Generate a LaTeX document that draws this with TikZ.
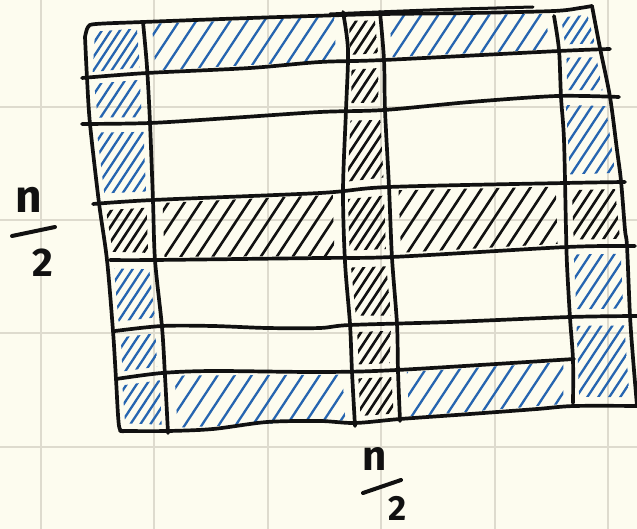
\documentclass[tikz,border=0pt]{standalone}
\usepackage{fontspec}
\newfontfamily\hand{Fira Sans}
\usetikzlibrary{calc}
\definecolor{paper}{RGB}{253,252,239}
\definecolor{gridc}{RGB}{222,219,206}
\definecolor{ink}{RGB}{17,17,17}
\definecolor{penblue}{RGB}{38,101,176}
\tikzset{
 edge line/.style={ink, line width=3.7pt, line cap=round, line join=round},
 bh/.style={penblue, line width=2.3pt, line cap=round},
 kh/.style={ink, line width=2.6pt, line cap=round},
 paperline/.style={gridc, line width=1.4pt},
 lbl/.style={text=ink, inner sep=0pt, anchor=base},
 bar/.style={ink, line width=4pt, line cap=round}
}
\newcommand\hcell[7]{%
 \begin{scope}
 \coordinate (cen) at ($(#4)!.5!(#6)$);
 \clip ($(#4)!#3pt!(cen)$) -- ($(#5)!#3pt!(cen)$) -- ($(#6)!#3pt!(cen)$) -- ($(#7)!#3pt!(cen)$) -- cycle;
 \foreach \m in {0,...,150} {\pgfmathsetmacro\k{-420+\m*#2} \draw[#1] (\k,440) -- ++(290,-440);}
 \end{scope}}
\begin{document}
\begin{tikzpicture}[x=1pt,y=-1pt]
\fill[paper] (0,0) rectangle (637,529);
\useasboundingbox (0,0) rectangle (637,529);
% paper grid
\foreach \gx in {41,154,268,381,495,608} \draw[paperline] (\gx,0) -- (\gx,529);
\foreach \gy in {107,220,333,447} \draw[paperline] (0,\gy) -- (637,\gy);
% corner points
\coordinate (p00) at (88,26); \coordinate (p10) at (143,22); \coordinate (p20) at (343,14); \coordinate (p30) at (380,13); \coordinate (p40) at (554,12); \coordinate (p50) at (592,7);
\coordinate (p01) at (86,78); \coordinate (p11) at (147,73); \coordinate (p21) at (345,62); \coordinate (p31) at (384,60); \coordinate (p41) at (559,51); \coordinate (p51) at (602,49);
\coordinate (p02) at (90,124); \coordinate (p12) at (150,123); \coordinate (p22) at (345,111); \coordinate (p32) at (385,110); \coordinate (p42) at (560,97); \coordinate (p52) at (610,97);
\coordinate (p03) at (99,203); \coordinate (p13) at (153,200); \coordinate (p23) at (342,191); \coordinate (p33) at (389,187); \coordinate (p43) at (565,183); \coordinate (p53) at (621,181);
\coordinate (p04) at (107,260); \coordinate (p14) at (155,260); \coordinate (p24) at (344,259); \coordinate (p34) at (392,257); \coordinate (p44) at (567,247); \coordinate (p54) at (627,246);
\coordinate (p05) at (113,331); \coordinate (p15) at (162,326); \coordinate (p25) at (350,325); \coordinate (p35) at (398,324); \coordinate (p45) at (570,317); \coordinate (p55) at (630,316);
\coordinate (p06) at (116,379); \coordinate (p16) at (165,373); \coordinate (p26) at (352,372); \coordinate (p36) at (397,370); \coordinate (p46) at (573,359); \coordinate (p56) at (633,358);
\coordinate (p07) at (119,430); \coordinate (p17) at (168,431); \coordinate (p27) at (355,423); \coordinate (p37) at (400,420); \coordinate (p47) at (573,406); \coordinate (p57) at (636,406);
% hatching row 0
\hcell{bh}{9}{9}{p00}{p10}{p11}{p01}
\hcell{bh}{17}{9}{p10}{p20}{p21}{p11}
\hcell{kh}{10}{9}{p20}{p30}{p31}{p21}
\hcell{bh}{17}{9}{p30}{p40}{p41}{p31}
\hcell{bh}{10}{9}{p40}{p50}{p51}{p41}
% row 1
\hcell{bh}{11}{10}{p01}{p11}{p12}{p02}
\hcell{kh}{10}{10}{p21}{p31}{p32}{p22}
\hcell{bh}{11}{10}{p41}{p51}{p52}{p42}
% row 2
\hcell{bh}{10}{11}{p02}{p12}{p13}{p03}
\hcell{kh}{10}{11}{p22}{p32}{p33}{p23}
\hcell{bh}{12}{10}{p42}{p52}{p53}{p43}
% row 3
\hcell{kh}{10}{10}{p03}{p13}{p14}{p04}
\hcell{kh}{16}{10}{p13}{p23}{p24}{p14}
\hcell{kh}{10}{10}{p23}{p33}{p34}{p24}
\hcell{kh}{16}{10}{p33}{p43}{p44}{p34}
\hcell{kh}{11}{10}{p43}{p53}{p54}{p44}
% row 4
\hcell{bh}{10}{11}{p04}{p14}{p15}{p05}
\hcell{kh}{10}{11}{p24}{p34}{p35}{p25}
\hcell{bh}{12}{10}{p44}{p54}{p55}{p45}
% row 5
\hcell{bh}{10}{10}{p05}{p15}{p16}{p06}
\hcell{kh}{10}{10}{p25}{p35}{p36}{p26}
\hcell{bh}{11}{11}{p45}{p55}{p57}{p47}
% row 6
\hcell{bh}{10}{9}{p06}{p16}{p17}{p07}
\hcell{bh}{17}{10}{p16}{p26}{p27}{p17}
\hcell{kh}{10}{9}{p26}{p36}{p37}{p27}
\hcell{bh}{17}{10}{p36}{p46}{p47}{p37}
% outline and dividers
\draw[edge line] plot[smooth, tension=0.5] coordinates {(85,37) (88,27) (96,24) (143,22) (250,18) (344,15) (383,14) (470,13) (554,11) (580,8) (592,6)};
\draw[edge line, line width=3pt] plot[smooth, tension=0.5] coordinates {(330,14) (430,10) (533,7)};
\draw[edge line] plot[smooth, tension=0.5] coordinates {(85,37) (87,78) (90,124) (99,203) (107,260) (113,331) (116,379) (119,426) (124,431)};
\draw[edge line] plot[smooth, tension=0.5] coordinates {(120,431) (168,431) (213,429) (267,422) (320,421) (355,423) (400,419) (470,414) (537,409) (574,406) (640,406)};
\draw[edge line] plot[smooth, tension=0.5] coordinates {(592,6) (600,48) (610,97) (617,150) (621,181) (625,230) (627,246) (630,316) (633,358) (637,406)};
\draw[edge line] plot[smooth, tension=0.5] coordinates {(143,22) (147,67) (150,123) (153,201) (155,260) (162,327) (165,376) (168,433)};
\draw[edge line] plot[smooth, tension=0.5] coordinates {(343,12) (348,50) (346,110) (343,190) (345,262) (350,324) (352,372) (355,426)};
\draw[edge line] plot[smooth, tension=0.5] coordinates {(380,12) (384,60) (385,110) (389,187) (392,258) (397,324) (398,371) (400,421)};
\draw[edge line] plot[smooth, tension=0.5] coordinates {(554,16) (559,50) (561,97) (564,140) (566,230) (567,265) (570,318) (573,360) (573,403)};
\draw[edge line] plot[smooth, tension=0.5] coordinates {(82,78) (147,73) (250,68) (320,62) (384,60) (559,51) (610,49)};
\draw[edge line] plot[smooth, tension=0.5] coordinates {(82,124) (150,123) (230,118) (320,112) (384,110) (470,102) (557,96) (619,97)};
\draw[edge line] plot[smooth, tension=0.5] coordinates {(93,204) (153,200) (320,193) (389,187) (565,183) (625,182)};
\draw[edge line] plot[smooth, tension=0.5] coordinates {(110,260) (154,260) (320,258) (392,257) (567,247) (635,246)};
\draw[edge line] plot[smooth, tension=0.5] coordinates {(115,331) (162,326) (213,326) (267,328) (320,328) (350,325) (450,322) (570,317) (637,316)};
\draw[edge line] plot[smooth, tension=0.5] coordinates {(116,379) (162,373) (213,371) (320,372) (397,370) (574,359)};
% labels
\node[lbl, font=\hand\bfseries\fontsize{46}{46}\selectfont] (nl) at (29,213) {n};
\draw[bar] (12,236) -- (55,227);
\node[lbl, font=\hand\bfseries\fontsize{40}{40}\selectfont] (tl) at (43,277) {2};
\node[lbl, font=\hand\bfseries\fontsize{42}{42}\selectfont] (nb) at (375,470) {n};
\draw[bar] (363,493) -- (401,480);
\node[lbl, font=\hand\bfseries\fontsize{35}{35}\selectfont] (tb) at (398,520) {2};
\end{tikzpicture}
\end{document}
